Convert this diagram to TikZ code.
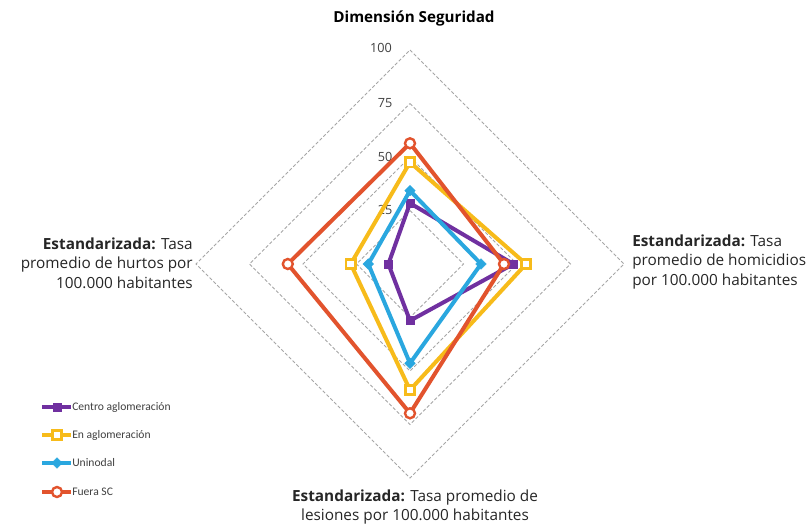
\documentclass[tikz,border=0pt]{standalone}
\usepackage{fontspec}
\setmainfont{Open Sans}
\newfontfamily\legfont{Carlito}
\usetikzlibrary{shapes.geometric}
\definecolor{cCentro}{HTML}{7030A0}
\definecolor{cEn}{HTML}{F7BB1A}
\definecolor{cUni}{HTML}{2AA7DF}
\definecolor{cFuera}{HTML}{E2532D}
\definecolor{gridgray}{HTML}{A6A6A6}
\definecolor{txtgray}{HTML}{404040}
\tikzset{
  ring/.style={draw=gridgray, line width=0.6pt, dash pattern=on 2.5pt off 1.5pt},
  series/.style={line width=3pt, line join=round},
  mkcentro/.style={draw=cCentro, fill=cCentro, rectangle, minimum size=6pt, inner sep=0pt},
  mken/.style={draw=cEn, fill=white, rectangle, line width=1.8pt, minimum size=7pt, inner sep=0pt},
  mkuni/.style={draw=cUni, fill=cUni, diamond, minimum size=8pt, inner sep=0pt},
  mkfuera/.style={draw=cFuera, fill=white, circle, line width=1.8pt, minimum size=7.5pt, inner sep=0pt},
  axlabel/.style={font=\fontsize{11.5}{14.6}\selectfont, text=black!85, inner sep=0pt},
  tick/.style={font=\fontsize{9.5}{11}\selectfont, text=txtgray, inner sep=0pt},
  legtext/.style={font=\legfont\fontsize{8.7}{10}\selectfont, text=txtgray, anchor=west, inner sep=0pt},
}
\begin{document}
\begin{tikzpicture}[x=0.75pt,y=-0.75pt]
\useasboundingbox[fill=white] (0,0) rectangle (807,526);
\coordinate (C) at (410,264);
% rings
\foreach \r in {53.5,107,160.5,214}{
  \draw[ring] (410,264-\r) -- (410+\r,264) -- (410,264+\r) -- (410-\r,264) -- cycle;
}
% tick labels
\node[tick] (t100) at (381,48) {100};
\node[tick] (t75) at (385,103) {75};
\node[tick] (t50) at (385,157) {50};
\node[tick] (t25) at (385,210) {25};
% title and axis labels
\node[font=\fontsize{11.4}{13}\selectfont\bfseries, inner sep=0pt] (title) at (414,18) {Dimensión Seguridad};
\node[axlabel, align=left, anchor=west] (lright) at (632,262) {\textbf{Estandarizada:} Tasa\\promedio de homicidios\\por 100.000 habitantes};
\node[axlabel, align=right, anchor=east] (lleft) at (193,263) {\textbf{Estandarizada:} Tasa\\promedio de hurtos por\\100.000 habitantes};
\node[axlabel, align=center] (lbottom) at (415,507) {\textbf{Estandarizada:} Tasa promedio de\\lesiones por 100.000 habitantes};
% data coordinates
\coordinate (c1) at (410,203.2); \coordinate (c2) at (513.4,264); \coordinate (c3) at (410,320.7); \coordinate (c4) at (388.4,264);
\coordinate (e1) at (410,162.3); \coordinate (e2) at (526,264); \coordinate (e3) at (410,390); \coordinate (e4) at (350.7,264);
\coordinate (u1) at (410,190.6); \coordinate (u2) at (481,264); \coordinate (u3) at (410,363.3); \coordinate (u4) at (368.3,264);
\coordinate (f1) at (410,143.3); \coordinate (f2) at (504,264); \coordinate (f3) at (410,413.3); \coordinate (f4) at (287.8,264);
% series
\draw[series, cCentro] (c1) -- (c2) -- (c3) -- (c4) -- cycle;
\foreach \p in {c1,c2,c3,c4} \node[mkcentro] at (\p) {};
\draw[series, cEn] (e1) -- (e2) -- (e3) -- (e4) -- cycle;
\foreach \p in {e1,e2,e3,e4} \node[mken] at (\p) {};
\draw[series, cUni] (u1) -- (u2) -- (u3) -- (u4) -- cycle;
\foreach \p in {u1,u2,u3,u4} \node[mkuni] at (\p) {};
\draw[series, cFuera] (f1) -- (f2) -- (f3) -- (f4) -- cycle;
\foreach \p in {f1,f2,f3,f4} \node[mkfuera] at (\p) {};
% legend
\coordinate (la1) at (42,407); \coordinate (lb1) at (71,407);
\coordinate (la2) at (42,435); \coordinate (lb2) at (71,435);
\coordinate (la3) at (42,463); \coordinate (lb3) at (71,463);
\coordinate (la4) at (42,492); \coordinate (lb4) at (71,492);
\draw[series, cCentro, line width=2.4pt] (la1) -- (lb1);
\node[mkcentro] (lm1) at (57,407) {};
\node[legtext] (lt1) at (72,407) {Centro aglomeración};
\draw[series, cEn, line width=2.4pt] (la2) -- (lb2);
\node[mken] (lm2) at (57,435) {};
\node[legtext] (lt2) at (72,435) {En aglomeración};
\draw[series, cUni, line width=2.4pt] (la3) -- (lb3);
\node[mkuni] (lm3) at (57,463) {};
\node[legtext] (lt3) at (72,463) {Uninodal};
\draw[series, cFuera, line width=2.4pt] (la4) -- (lb4);
\node[mkfuera] (lm4) at (57,492) {};
\node[legtext] (lt4) at (72,492) {Fuera SC};
\end{tikzpicture}
\end{document}
